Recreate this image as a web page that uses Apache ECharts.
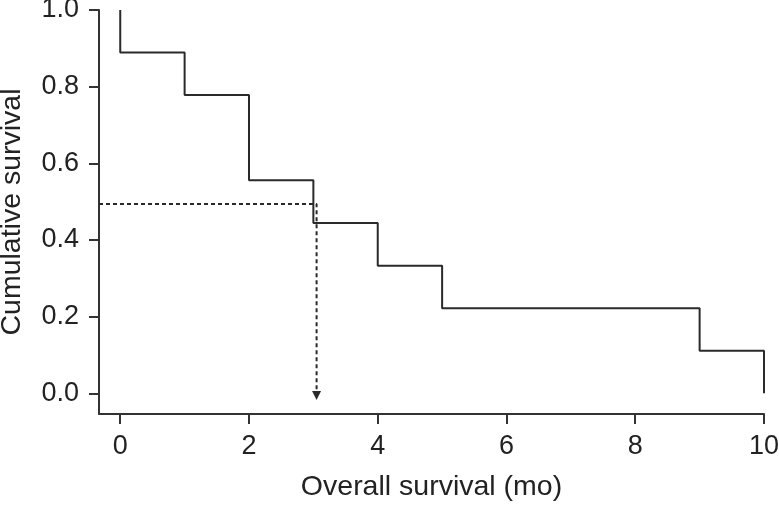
<!DOCTYPE html>
<html><head><meta charset="utf-8">
<script src="https://cdn.jsdelivr.net/npm/echarts@6/dist/echarts.min.js"></script>
<style>html,body{margin:0;padding:0;background:#fff}#c{width:779px;height:506px}</style>
</head><body><div id="c"></div>
<script>
// Kaplan-Meier step curve (time in months, cumulative survival)
const kmTimes = [0, 0, 1, 1, 2, 2, 3, 3, 4, 4, 5, 5, 9, 9, 10, 10];
const kmSurv  = [1.0, 0.889, 0.889, 0.778, 0.778, 0.556, 0.556, 0.444, 0.444, 0.333, 0.333, 0.222, 0.222, 0.111, 0.111, 0.0];
// Median guide line (dashed) with arrow
const medianX = [-0.33, 3.05, 3.05];
const medianY = [0.494, 0.494, -0.006];
const xTicks = [0, 2, 4, 6, 8, 10];
const yTicks = [0, 0.2, 0.4, 0.6, 0.8, 1.0];

const font = 'Liberation Sans, Arial, sans-serif';
const chart = echarts.init(document.getElementById('c'));
const kmData = kmTimes.map((t, i) => [t, kmSurv[i]]);
const medData = medianX.map((x, i) => {
  const last = i === medianX.length - 1;
  return last ? {value: [x, medianY[i]], symbol: 'triangle', symbolRotate: 180, symbolSize: [9, 9]} : {value: [x, medianY[i]], symbol: 'none'};
});
chart.setOption({
  animation: false,
  grid: {left: 99, right: 15, top: 10, bottom: 92, containLabel: false, outerBoundsMode: 'none'},
  xAxis: {
    type: 'value', min: -0.33, max: 10,
    name: 'Overall survival (mo)', nameLocation: 'middle', nameGap: 59,
    nameTextStyle: {fontFamily: font, fontSize: 28.5, color: '#222'},
    axisLine: {show: true, onZero: false, lineStyle: {color: '#333', width: 2}},
    axisTick: {show: true, length: 10, lineStyle: {color: '#333', width: 2}, customValues: xTicks},
    axisLabel: {fontFamily: font, fontSize: 27, color: '#222', margin: 19, customValues: xTicks},
    splitLine: {show: false}
  },
  yAxis: {
    type: 'value', min: -0.054, max: 1.0,
    name: 'Cumulative survival', nameLocation: 'middle', nameGap: 72,
    nameTextStyle: {fontFamily: font, fontSize: 28.5, color: '#222'},
    axisLine: {show: true, onZero: false, lineStyle: {color: '#333', width: 2}},
    axisTick: {show: true, length: 10, lineStyle: {color: '#333', width: 2}, customValues: yTicks},
    axisLabel: {fontFamily: font, fontSize: 27, color: '#222', margin: 20, customValues: yTicks,
      formatter: v => v.toFixed(1)},
    splitLine: {show: false}
  },
  series: [
    {type: 'line', data: kmData, symbol: 'none', lineStyle: {color: '#2a2a2a', width: 2}},
    {type: 'line', data: medData, showSymbol: true, symbol: 'none',
     itemStyle: {color: '#2a2a2a'},
     lineStyle: {color: '#2a2a2a', width: 2, type: [4, 3]}}
  ]
});
</script></body></html>
